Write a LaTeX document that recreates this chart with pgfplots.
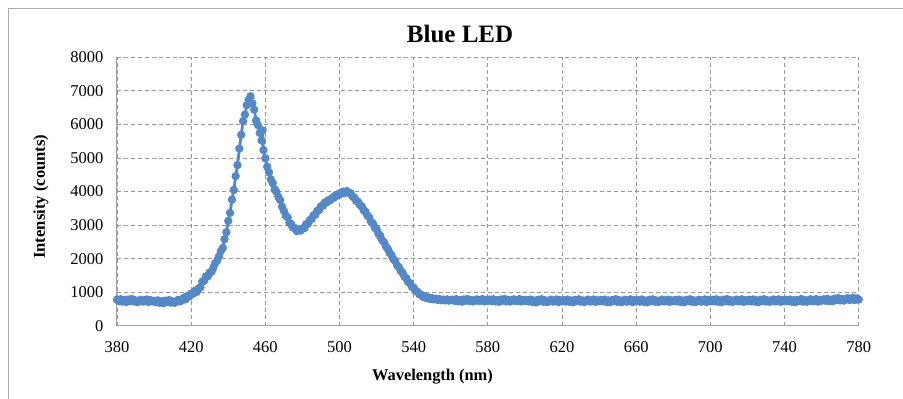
\documentclass[border=0pt]{standalone}
\usepackage{pgfplots}
\pgfplotsset{compat=1.18}
\usepackage{fontspec}
\setmainfont{Liberation Serif}
\definecolor{ledblue}{RGB}{84,136,198}
\definecolor{gridgray}{RGB}{150,150,150}
\definecolor{framegray}{RGB}{172,172,172}
\definecolor{axisgray}{RGB}{160,160,160}
\begin{document}
\begin{tikzpicture}
\path[use as bounding box] (-117pt,-73.3pt) rectangle (786pt,325.7pt);
\draw[framegray, line width=1.3pt] (-108.7pt,-80pt) -- (-108.7pt,317.4pt) -- (795pt,317.4pt);
\begin{axis}[
  at={(0,0)}, anchor=south west,
  scale only axis, width=741.7pt, height=268.4pt,
  xmin=380, xmax=780, ymin=0, ymax=8000,
  xtick={380,420,...,780}, ytick={0,1000,...,8000},
  axis x line=bottom, axis y line=left,
  axis line style={-, draw=axisgray, line width=1pt},
  major tick length=0pt,
  grid=major,
  major grid style={gridgray, dash pattern=on 4pt off 3pt, line width=0.9pt},
  /pgf/number format/1000 sep={},
  /pgf/number format/assume math mode=true,
  ticklabel style={font=\fontsize{16.5}{19}\selectfont, text=black},
  yticklabel style={xshift=-10pt},
  xticklabel style={yshift=-12pt},
  title={Blue LED},
  title style={at={(axis description cs:0.4625,1.0346)}, anchor=base, font=\bfseries\fontsize{25}{30}\selectfont},
  xlabel={Wavelength (nm)},
  xlabel style={at={(axis description cs:0.4254,-0.2060)}, anchor=base, font=\bfseries\fontsize{16.4}{19}\selectfont},
  ylabel={Intensity (counts)},
  ylabel style={at={(axis description cs:-0.0971,0.4806)}, anchor=base, font=\bfseries\fontsize{16.6}{19}\selectfont},
]
\addplot[ledblue, line width=2.8pt, mark=*, mark size=2.7pt, mark options={ledblue, solid}] coordinates {
(380,775)(381,732)(382,790)(383,718)(384,758)(385,705)(386,780)(387,740)(388,798)(389,723)
(390,755)(391,702)(392,745)(393,775)(394,718)(395,732)(396,782)(397,705)(398,760)(399,725)
(400,740)(401,697)(402,755)(403,683)(404,723)(405,670)(406,745)(407,705)(408,763)(409,688)
(410,730)(411,680)(412,722)(413,770)(414,723)(415,762)(416,832)(417,785)(418,885)(419,872)
(420,955)(421,952)(422,1040)(423,1008)(424,1108)(425,1145)(426,1310)(427,1340)(428,1468)(429,1473)
(430,1585)(431,1612)(432,1735)(433,1865)(434,1938)(435,2072)(436,2222)(437,2315)(438,2580)(439,2785)
(440,3125)(441,3362)(442,3760)(443,4048)(444,4458)(445,4785)(446,5280)(447,5690)(448,6098)(449,6293)
(450,6575)(451,6738)(452,6840)(453,6628)(454,6440)(455,6115)(456,5980)(457,5745)(458,5520)(458.5,5820)(459,5235)
(460,4990)(461,4735)(462,4570)(463,4360)(464,4245)(465,4060)(466,3990)(467,3842)(468,3740)(469,3548)
(470,3425)(471,3282)(472,3230)(473,3068)(474,3018)(475,2925)(476,2910)(477,2818)(478,2862)(479,2835)
(480,2900)(481,2905)(482,3025)(483,3042)(484,3148)(485,3185)(486,3290)(487,3312)(488,3425)(489,3448)
(490,3560)(491,3575)(492,3668)(493,3672)(494,3740)(495,3738)(496,3805)(497,3818)(498,3892)(499,3885)
(500,3945)(501,3932)(502,3998)(503,3962)(504,4012)(505,3958)(506,3948)(507,3855)(508,3815)(509,3722)
(510,3695)(511,3598)(512,3555)(513,3440)(514,3398)(515,3285)(516,3232)(517,3098)(518,3048)(519,2925)
(520,2872)(521,2740)(522,2680)(523,2548)(524,2490)(525,2362)(526,2295)(527,2172)(528,2110)(529,1985)
(530,1930)(531,1800)(532,1745)(533,1632)(534,1578)(535,1462)(536,1418)(537,1302)(538,1268)(539,1165)
(540,1135)(541,1042)(542,1015)(543,938)(544,925)(545,860)(546,868)(547,818)(548,842)(549,795)
(550,822)(551,785)(552,805)(553,768)(554,792)(555,760)(556,778)(557,752)(558,785)(559,748)
(560,770)(561,775)(562,740)(563,790)(564,728)(565,762)(566,715)(567,782)(568,748)(569,795)
(570,731)(571,767)(572,722)(573,760)(574,785)(575,737)(576,749)(577,792)(578,724)(579,772)
(580,742)(581,778)(582,735)(583,788)(584,726)(585,761)(586,712)(587,780)(588,745)(589,796)
(590,728)(591,768)(592,720)(593,758)(594,786)(595,735)(596,746)(597,793)(598,722)(599,770)
(600,740)(601,765)(602,722)(603,780)(604,708)(605,748)(606,695)(607,770)(608,730)(609,788)
(610,713)(611,755)(612,702)(613,745)(614,775)(615,718)(616,732)(617,782)(618,705)(619,760)
(620,725)(621,762)(622,720)(623,778)(624,712)(625,750)(626,698)(627,768)(628,733)(629,785)
(630,716)(631,752)(632,705)(633,742)(634,778)(635,720)(636,728)(637,780)(638,708)(639,758)
(640,728)(641,768)(642,725)(643,775)(644,705)(645,752)(646,700)(647,765)(648,735)(649,790)
(650,710)(651,758)(652,698)(653,748)(654,772)(655,715)(656,735)(657,785)(658,702)(659,762)
(660,722)(661,760)(662,718)(663,782)(664,710)(665,745)(666,697)(667,772)(668,728)(669,786)
(670,715)(671,750)(672,706)(673,740)(674,780)(675,722)(676,730)(677,778)(678,710)(679,755)
(680,730)(681,766)(682,724)(683,777)(684,707)(685,749)(686,701)(687,769)(688,732)(689,787)
(690,712)(691,756)(692,703)(693,746)(694,774)(695,717)(696,734)(697,783)(698,706)(699,761)
(700,727)(701,770)(702,727)(703,785)(704,713)(705,753)(706,700)(707,775)(708,735)(709,793)
(710,718)(711,760)(712,707)(713,750)(714,780)(715,723)(716,737)(717,787)(718,710)(719,765)
(720,730)(721,768)(722,725)(723,782)(724,716)(725,755)(726,703)(727,772)(728,738)(729,790)
(730,720)(731,757)(732,710)(733,747)(734,783)(735,725)(736,733)(737,785)(738,712)(739,762)
(740,732)(741,773)(742,729)(743,780)(744,710)(745,756)(746,704)(747,770)(748,740)(749,795)
(750,717)(751,765)(752,712)(753,757)(754,788)(755,730)(756,742)(757,793)(758,718)(759,772)
(760,745)(761,785)(762,745)(763,802)(764,733)(765,775)(766,730)(767,805)(768,768)(769,825)
(770,752)(771,795)(772,748)(773,790)(774,823)(775,770)(776,780)(777,832)(778,762)(779,812)
(780,780)
};
\end{axis}
\end{tikzpicture}
\end{document}
